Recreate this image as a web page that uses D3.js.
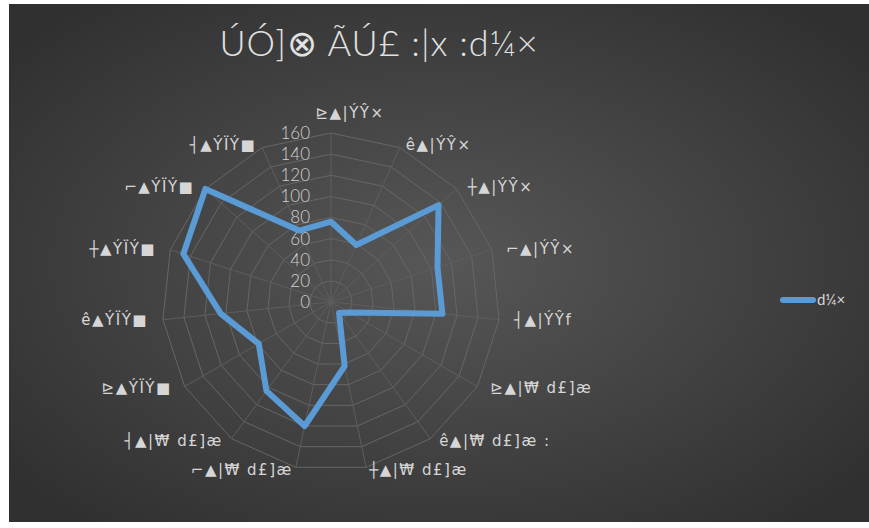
<!DOCTYPE html>
<html lang="en">
<head>
<meta charset="UTF-8">
<title>radar</title>
<script src="https://d3js.org/d3.v7.min.js"></script>
<style>
  html, body { margin: 0; padding: 0; background: #fff; }
  svg text { font-family: Lato, "DejaVu Sans", sans-serif; }
  svg text.cat { font-family: "DejaVu Sans", sans-serif; }
</style>
</head>
<body>
<div class="chartContainer"></div>
<script>
// Data
const categories = ["⊵▲|ÝŶ×", "ê▲|ÝŶ×", "┼▲|ÝŶ×", "⌐▲|ÝŶ×", "┤▲|ÝŶf",
                    "⊵▲|₩ d£]æ", "ê▲|₩ d£]æ :", "┼▲|₩ d£]æ", "⌐▲|₩ d£]æ", "┤▲|₩ d£]æ",
                    "⊵▲ÝÏÝ■", "ê▲ÝÏÝ■", "┼▲ÝÏÝ■", "⌐▲ÝÏÝ■", "┤▲ÝÏÝ■"];
const values = [76, 59, 137, 106, 106, 20, 13, 62, 120, 104, 79, 105, 147, 160, 74];
const ticks = [0, 20, 40, 60, 80, 100, 120, 140, 160];
const seriesName = "d¼×";
const title = "ÚÓ]⊗ ÃÚ£ :|x :d¼×";

const W = 869, H = 528;
const cx = 331, cy = 302, R = 169;

const svg = d3.select(".chartContainer").append("svg")
  .attr("width", W).attr("height", H);

// 背景漸層
const defs = svg.append("defs");
const grad = defs.append("radialGradient").attr("id", "bg")
  .attr("cx", "50%").attr("cy", "50%").attr("r", "65%");
grad.append("stop").attr("offset", "0%").attr("stop-color", "#575757");
grad.append("stop").attr("offset", "100%").attr("stop-color", "#303030");

svg.append("rect")
  .attr("x", 9).attr("y", 4).attr("width", W - 9).attr("height", 518)
  .attr("fill", "url(#bg)");

// scales
const r = d3.scaleLinear().domain([0, 160]).range([0, R]);
const angle = d3.scalePoint().domain(d3.range(categories.length))
  .range([0, 2 * Math.PI * (1 - 1 / categories.length)]);

const pt = (a, rad) => [cx + rad * Math.sin(a), cy - rad * Math.cos(a)];

// grid rings
const grid = svg.append("g").attr("class", "grid");
grid.selectAll("polygon")
  .data(ticks.slice(1))
  .join("polygon")
  .attr("points", t => categories.map((c, i) => pt(angle(i), r(t)).join(",")).join(" "))
  .attr("fill", "none")
  .attr("stroke", "#666")
  .attr("stroke-width", 1);

// spokes
grid.selectAll("line")
  .data(categories)
  .join("line")
  .attr("x1", cx).attr("y1", cy)
  .attr("x2", (c, i) => pt(angle(i), R)[0])
  .attr("y2", (c, i) => pt(angle(i), R)[1])
  .attr("stroke", "#5e5e5e")
  .attr("stroke-width", 1);

// value axis labels
svg.append("g").selectAll("text")
  .data(ticks)
  .join("text")
  .attr("x", cx - 21)
  .attr("y", t => cy - r(t))
  .attr("dy", "0.35em")
  .attr("text-anchor", "end")
  .attr("font-size", 17)
  .attr("font-weight", 300)
  .attr("fill", "#d0d0d0")
  .text(t => t);

// category labels
svg.append("g").selectAll("text")
  .data(categories)
  .join("text")
  .attr("class", "cat")
  .attr("x", (c, i) => {
    const a = angle(i);
    if (i === 0) return cx + 19;
    return cx + 184 * Math.sin(a);
  })
  .attr("y", (c, i) => i === 0 ? cy - R - 20 : cy - 172 * Math.cos(angle(i)))
  .attr("dy", "0.35em")
  .attr("text-anchor", (c, i) => {
    const s = Math.sin(angle(i));
    return i === 0 ? "middle" : (s > 0 ? "start" : "end");
  })
  .attr("font-size", 15)
  .attr("letter-spacing", 1.5)
  .attr("fill", "#d6d6d6")
  .text(c => c);

// series line
const line = d3.lineRadial()
  .angle((d, i) => angle(i))
  .radius(d => r(d))
  .curve(d3.curveLinearClosed);

svg.append("path")
  .datum(values)
  .attr("transform", `translate(${cx},${cy})`)
  .attr("d", line)
  .attr("fill", "none")
  .attr("stroke", "#5B9BD5")
  .attr("stroke-width", 6)
  .attr("stroke-linejoin", "round");

// title
svg.append("text")
  .attr("x", 379).attr("y", 56)
  .attr("text-anchor", "middle")
  .attr("font-size", 36)
  .attr("font-weight", 300)
  .attr("letter-spacing", 1)
  .attr("fill", "#e2e2e2")
  .text(title);

// legend
const legend = svg.append("g").attr("transform", "translate(783,300)");
legend.append("line")
  .attr("x1", 0).attr("x2", 30).attr("y1", 0).attr("y2", 0)
  .attr("stroke", "#5B9BD5").attr("stroke-width", 6)
  .attr("stroke-linecap", "round");
legend.append("text")
  .attr("x", 34).attr("y", 0).attr("dy", "0.35em")
  .attr("font-size", 15)
  .attr("fill", "#d6d6d6")
  .text(seriesName);
</script>
</body>
</html>
